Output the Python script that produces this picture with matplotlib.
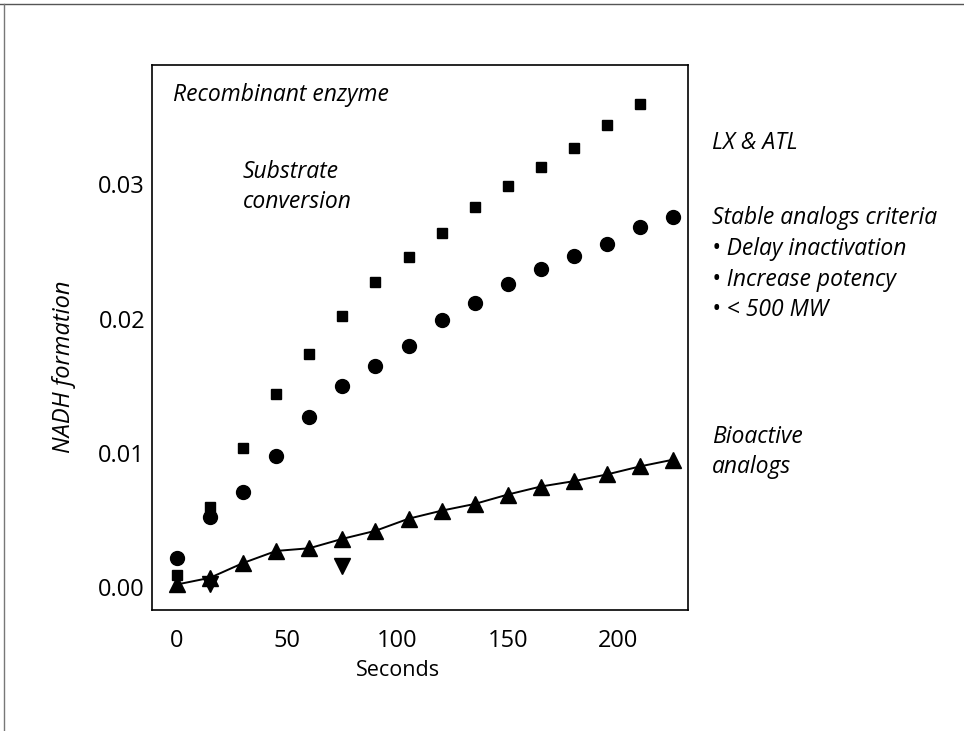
import matplotlib
matplotlib.use("Agg")
import matplotlib.pyplot as plt
from matplotlib.lines import Line2D

plt.rcParams['font.family'] = ['Open Sans', 'DejaVu Sans']

# ---- data ----
sec_sq = [0, 15, 30, 45, 60, 75, 90, 105, 120, 135, 150, 165, 180, 195, 210]
lx_atl = [0.0009, 0.0060, 0.0104, 0.0144, 0.0174, 0.0202, 0.0227, 0.0246,
          0.0264, 0.0283, 0.0299, 0.0313, 0.0327, 0.0344, 0.0360]

sec_c = [0, 15, 30, 45, 60, 75, 90, 105, 120, 135, 150, 165, 180, 195, 210, 225]
substrate = [0.0022, 0.0052, 0.0071, 0.0098, 0.0127, 0.0150, 0.0165, 0.0180,
             0.0199, 0.0212, 0.0226, 0.0237, 0.0247, 0.0256, 0.0268, 0.0276]

sec_t = [0, 15, 30, 45, 60, 75, 90, 105, 120, 135, 150, 165, 180, 195, 210, 225]
bioactive = [0.0002, 0.0007, 0.0018, 0.0027, 0.0029, 0.0036, 0.0042, 0.0051,
             0.0057, 0.0062, 0.0069, 0.0075, 0.0079, 0.0084, 0.0090, 0.0095]

sec_inv = [15, 75]
inactive = [0.0002, 0.0016]

xticks = [0, 50, 100, 150, 200]
yticks = [0.00, 0.01, 0.02, 0.03]
ytick_labels = ["0.00", "0.01", "0.02", "0.03"]

W, H = 964, 731
fig = plt.figure(figsize=(W / 100, H / 100), dpi=100)

# outer frame lines (top and left)
fig.add_artist(Line2D([0, 1], [1 - 4 / H, 1 - 4 / H], color='#555555', lw=1.0))
fig.add_artist(Line2D([4 / W, 4 / W], [0, 1 - 4 / H], color='#777777', lw=1.0))

ax = fig.add_axes([152 / W, 1 - 610 / H, (688 - 152) / W, (610 - 65) / H])

ax.plot(sec_t, bioactive, color='black', lw=1.4, zorder=2)
ax.plot(sec_t, bioactive, ls='none', marker='^', ms=11, color='black', zorder=3)
ax.plot(sec_inv, inactive, ls='none', marker='v', ms=11, color='black', zorder=3)
ax.plot(sec_sq, lx_atl, ls='none', marker='s', ms=7.5, color='black', zorder=3)
ax.plot(sec_c, substrate, ls='none', marker='o', ms=10, color='black', zorder=4)

ax.set_xlim(-11.3, 231.7)
ax.set_ylim(-0.0017, 0.0389)
ax.set_xticks(xticks)
ax.set_yticks(yticks)
ax.set_yticklabels(ytick_labels)
ax.tick_params(length=0, labelsize=17)
ax.tick_params(axis='x', pad=14)
ax.tick_params(axis='y', pad=5)
for s in ax.spines.values():
    s.set_linewidth(1.2)

ax.set_xlabel("Seconds", fontsize=15.5)
ax.xaxis.set_label_coords((100 + 11.3) / 243.0, -0.092)
ax.set_ylabel("NADH formation", fontsize=17, style='italic')
ax.yaxis.set_label_coords(-(152 - 76) / 536, (610 - 367) / 545)

fs = 16.5
ax.text(21 / 536, 1 - 30 / 545, "Recombinant enzyme", transform=ax.transAxes,
        fontsize=fs, style='italic', va='center', ha='left')
ax.text(91 / 536, 1 - 122 / 545, "Substrate\nconversion", transform=ax.transAxes,
        fontsize=fs, style='italic', va='center', ha='left', linespacing=1.3)


def ftxt(x, y, s):
    fig.text(x / W, 1 - y / H, s, fontsize=fs, style='italic', va='center', ha='left')


ftxt(712, 143, "LX & ATL")
ftxt(712, 218, "Stable analogs criteria")
ftxt(712, 249, "• Delay inactivation")
ftxt(712, 280, "• Increase potency")
ftxt(712, 310, "• < 500 MW")
ftxt(712, 437, "Bioactive")
ftxt(712, 467, "analogs")

fig.savefig("out.png", dpi=100)
